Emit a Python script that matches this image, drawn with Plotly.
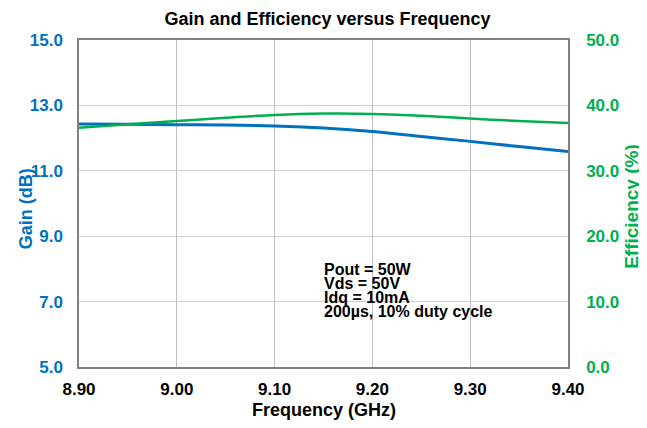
import plotly.graph_objects as go

freq_ghz = [8.90, 8.95, 9.00, 9.05, 9.10, 9.15, 9.20, 9.25, 9.30, 9.35, 9.40]
gain_db = [12.43, 12.42, 12.41, 12.40, 12.37, 12.31, 12.20, 12.05, 11.90, 11.74, 11.59]
efficiency_pct = [36.6, 37.1, 37.6, 38.1, 38.55, 38.75, 38.7, 38.4, 38.0, 37.6, 37.3]

notes = ["Pout = 50W", "Vds = 50V", "Idq = 10mA", "200\u00b5s, 10% duty cycle"]

BLUE = "#0070C0"
GREEN = "#00B050"
FONT = "Liberation Sans, Arial, sans-serif"

fig = go.Figure()
fig.add_trace(go.Scatter(x=freq_ghz, y=gain_db, mode="lines", line=dict(color=BLUE, width=3, shape="spline"),
                         name="Gain", yaxis="y"))
fig.add_trace(go.Scatter(x=freq_ghz, y=efficiency_pct, mode="lines", line=dict(color=GREEN, width=2.5, shape="spline"),
                         name="Efficiency", yaxis="y2"))

for i, t in enumerate(notes):
    fig.add_annotation(text=t, xref="paper", yref="paper", x=0.496, y=0.298 - i * 0.0428,
                       xanchor="left", yanchor="middle", showarrow=False,
                       font=dict(family=FONT, size=16, color="black", weight="bold"))

# axis titles
fig.add_annotation(text="Gain (dB)", xref="paper", yref="paper", x=-0.108, y=0.483, textangle=-90,
                   xanchor="center", yanchor="middle", showarrow=False,
                   font=dict(family=FONT, size=18, color=BLUE, weight="bold"))
fig.add_annotation(text="Efficiency (%)", xref="paper", yref="paper", x=1.131, y=0.49, textangle=-90,
                   xanchor="center", yanchor="middle", showarrow=False,
                   font=dict(family=FONT, size=19, color=GREEN, weight="bold"))
fig.add_annotation(text="Frequency (GHz)", xref="paper", yref="paper", x=0.5, y=-0.1315,
                   xanchor="center", yanchor="middle", showarrow=False,
                   font=dict(family=FONT, size=18, color="black", weight="bold"))

# the page body has an 8px margin, so the figure is sized to fit the 647x428 window
fig.update_layout(
    width=639, height=420,
    margin=dict(l=71, r=79, t=32, b=61),
    paper_bgcolor="white", plot_bgcolor="white",
    showlegend=False,
    font=dict(family=FONT, color="black"),
    title=dict(text="Gain and Efficiency versus Frequency", x=0.5, xanchor="center", y=0.975, yanchor="middle",
               font=dict(family=FONT, size=18, weight="bold", color="black"), automargin=False),
    xaxis=dict(range=[8.9, 9.4], dtick=0.1, tick0=8.9, tickformat=".2f", automargin=False,
               showgrid=True, gridcolor="#BFBFBF", gridwidth=1,
               showline=True, linecolor="#808080", linewidth=1.5, mirror=True,
               ticks="", ticklabelstandoff=6,
               tickfont=dict(family=FONT, size=17, color="black", weight="bold"),
               zeroline=False),
    yaxis=dict(range=[5, 15], dtick=2, tick0=5, tickformat=".1f", automargin=False,
               showgrid=True, gridcolor="#D0D0D0", gridwidth=1,
               showline=True, linecolor="#808080", linewidth=1.5,
               ticks="", ticklabelstandoff=11,
               tickfont=dict(family=FONT, size=17, color=BLUE, weight="bold"),
               zeroline=False),
    yaxis2=dict(range=[0, 50], dtick=10, tick0=0, tickformat=".1f", overlaying="y", side="right",
                automargin=False,
                showgrid=False, showline=True, linecolor="#808080", linewidth=1.5,
                ticks="", ticklabelstandoff=13,
                tickfont=dict(family=FONT, size=17, color=GREEN, weight="bold"),
                zeroline=False),
)

fig.write_html("out.html")
